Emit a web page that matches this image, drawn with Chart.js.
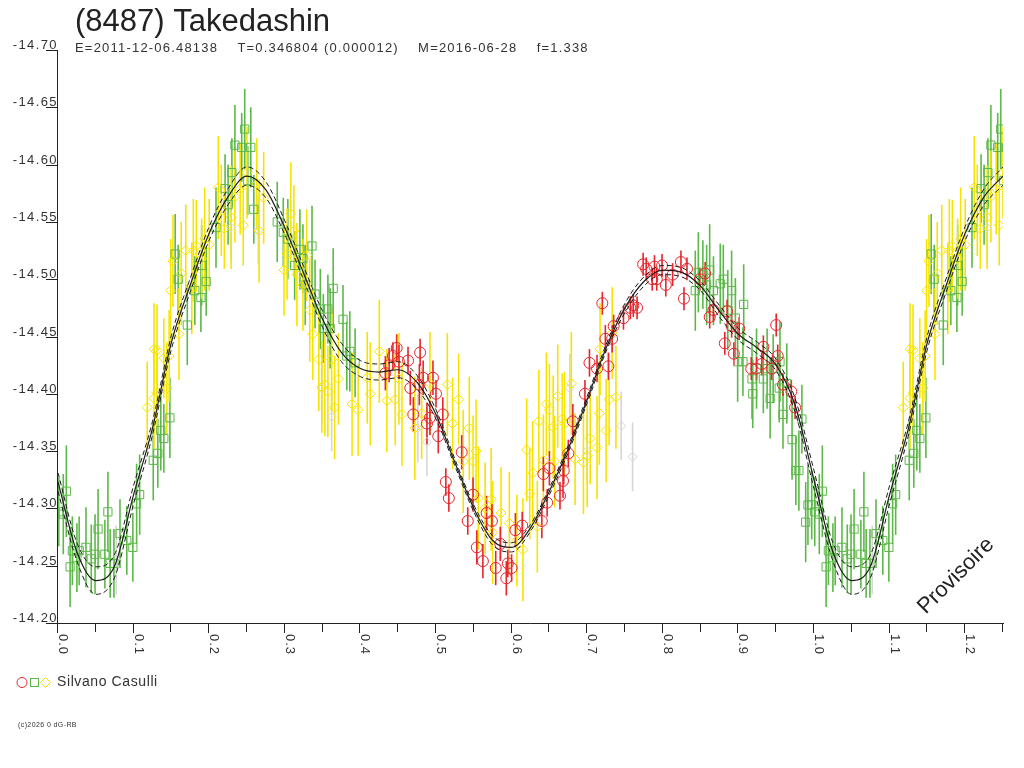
<!DOCTYPE html>
<html>
<head>
<meta charset="utf-8">
<title>(8487) Takedashin</title>
<script src="https://cdn.jsdelivr.net/npm/chart.js@4.4.1/dist/chart.umd.min.js"></script>
<style>
html, body { margin: 0; padding: 0; background: #fff; }
canvas { display: block; }
</style>
</head>
<body>
<canvas id="lc" width="1024" height="768"></canvas>
<script>
var titleText = '(8487) Takedashin';
var infoText = 'E=2011-12-06.48138    T=0.346804 (0.000012)    M=2016-06-28    f=1.338';
var observerName = 'Silvano Casulli';
var creditText = '(c)2026 0 dG-RB';
var stampText = 'Provisoire';

// axis ticks
var yTicks = [-14.70, -14.65, -14.60, -14.55, -14.50, -14.45, -14.40, -14.35, -14.30, -14.25, -14.20];
var xTicks = [0.0, 0.1, 0.2, 0.3, 0.4, 0.5, 0.6, 0.7, 0.8, 0.9, 1.0, 1.1, 1.2];
var xMinor = [0.05, 0.15, 0.25, 0.35, 0.45, 0.55, 0.65, 0.75, 0.85, 0.95, 1.05, 1.15, 1.25];

// fitted light curve + uncertainty envelope
var curvePhase = [0.000,0.025,0.050,0.075,0.100,0.125,0.150,0.175,0.200,0.225,0.250,0.275,0.300,0.325,0.350,0.375,0.400,0.425,0.450,0.475,0.500,0.525,0.550,0.575,0.600,0.625,0.650,0.675,0.700,0.725,0.750,0.775,0.800,0.825,0.850,0.875,0.900,0.925,0.950,0.975,1.000,1.025,1.050,1.075,1.100,1.125,1.150,1.175,1.200,1.225,1.250];
var curveMid = [-14.323,-14.262,-14.237,-14.250,-14.312,-14.370,-14.445,-14.495,-14.540,-14.572,-14.590,-14.578,-14.545,-14.505,-14.465,-14.436,-14.422,-14.419,-14.421,-14.410,-14.382,-14.340,-14.300,-14.272,-14.266,-14.283,-14.315,-14.352,-14.395,-14.440,-14.475,-14.498,-14.508,-14.506,-14.494,-14.472,-14.452,-14.440,-14.425,-14.390,-14.325,-14.262,-14.237,-14.250,-14.312,-14.370,-14.445,-14.495,-14.540,-14.572,-14.590];
var curveHigh = [-14.331,-14.270,-14.249,-14.260,-14.320,-14.376,-14.451,-14.501,-14.546,-14.579,-14.598,-14.585,-14.551,-14.511,-14.472,-14.444,-14.429,-14.426,-14.428,-14.416,-14.386,-14.343,-14.303,-14.276,-14.270,-14.286,-14.318,-14.355,-14.398,-14.443,-14.479,-14.502,-14.512,-14.510,-14.498,-14.477,-14.457,-14.445,-14.430,-14.396,-14.333,-14.270,-14.249,-14.260,-14.320,-14.376,-14.451,-14.501,-14.546,-14.579,-14.598];
var curveLow = [-14.315,-14.254,-14.225,-14.240,-14.304,-14.364,-14.439,-14.489,-14.534,-14.565,-14.582,-14.571,-14.539,-14.499,-14.458,-14.428,-14.415,-14.412,-14.414,-14.404,-14.378,-14.337,-14.297,-14.268,-14.262,-14.280,-14.312,-14.349,-14.392,-14.437,-14.471,-14.494,-14.504,-14.502,-14.490,-14.467,-14.447,-14.435,-14.420,-14.384,-14.317,-14.254,-14.225,-14.240,-14.304,-14.364,-14.439,-14.489,-14.534,-14.565,-14.582];

// observations (phase, magnitude, error)
var redPhase = [0.433,0.438,0.443,0.448,0.451,0.463,0.466,0.470,0.478,0.479,0.483,0.488,0.492,0.496,0.500,0.503,0.509,0.513,0.517,0.534,0.542,0.549,0.554,0.562,0.567,0.574,0.579,0.585,0.593,0.595,0.600,0.605,0.614,0.640,0.642,0.647,0.650,0.664,0.668,0.669,0.675,0.681,0.697,0.703,0.713,0.720,0.724,0.728,0.733,0.735,0.748,0.757,0.761,0.766,0.774,0.778,0.786,0.789,0.792,0.799,0.804,0.813,0.824,0.828,0.832,0.849,0.856,0.862,0.867,0.882,0.885,0.891,0.894,0.901,0.917,0.924,0.931,0.933,0.944,0.950,0.952,0.959,0.970,0.975];
var redMag = [-14.418,-14.425,-14.433,-14.440,-14.428,-14.429,-14.405,-14.382,-14.408,-14.436,-14.414,-14.374,-14.379,-14.414,-14.400,-14.363,-14.382,-14.323,-14.309,-14.349,-14.289,-14.312,-14.266,-14.254,-14.296,-14.289,-14.248,-14.269,-14.239,-14.252,-14.248,-14.281,-14.285,-14.289,-14.330,-14.305,-14.335,-14.311,-14.324,-14.333,-14.348,-14.376,-14.400,-14.427,-14.422,-14.479,-14.448,-14.424,-14.448,-14.459,-14.466,-14.475,-14.477,-14.475,-14.513,-14.509,-14.500,-14.511,-14.500,-14.512,-14.495,-14.504,-14.515,-14.483,-14.509,-14.500,-14.505,-14.467,-14.473,-14.444,-14.472,-14.459,-14.435,-14.457,-14.422,-14.422,-14.426,-14.441,-14.422,-14.460,-14.433,-14.408,-14.402,-14.388];
var redErr = [0.015,0.015,0.012,0.012,0.015,0.012,0.015,0.015,0.018,0.012,0.015,0.018,0.015,0.015,0.012,0.015,0.015,0.012,0.012,0.015,0.012,0.015,0.015,0.015,0.015,0.015,0.015,0.015,0.015,0.012,0.012,0.015,0.012,0.015,0.015,0.012,0.015,0.012,0.015,0.012,0.012,0.015,0.012,0.012,0.012,0.010,0.012,0.012,0.012,0.010,0.010,0.010,0.010,0.010,0.010,0.010,0.010,0.010,0.010,0.010,0.010,0.010,0.010,0.010,0.010,0.010,0.010,0.010,0.010,0.010,0.010,0.010,0.010,0.010,0.010,0.010,0.010,0.010,0.010,0.010,0.010,0.010,0.010,0.010];

var greenPhase = [0.001,0.007,0.011,0.016,0.019,0.025,0.028,0.037,0.044,0.049,0.053,0.062,0.066,0.069,0.074,0.082,0.091,0.099,0.104,0.108,0.126,0.132,0.136,0.140,0.148,0.155,0.159,0.171,0.181,0.189,0.190,0.196,0.209,0.221,0.225,0.230,0.234,0.243,0.247,0.251,0.255,0.259,0.290,0.298,0.304,0.313,0.320,0.324,0.327,0.336,0.340,0.347,0.351,0.357,0.360,0.364,0.377,0.382,0.386,0.393,0.843,0.847,0.853,0.858,0.862,0.867,0.876,0.880,0.886,0.891,0.896,0.899,0.906,0.907,0.918,0.919,0.924,0.933,0.938,0.942,0.946,0.954,0.955,0.959,0.964,0.971,0.976,0.980,0.984,0.989,0.992,0.997];
var greenMag = [-14.297,-14.295,-14.315,-14.249,-14.263,-14.257,-14.263,-14.266,-14.256,-14.260,-14.282,-14.260,-14.297,-14.252,-14.252,-14.278,-14.272,-14.266,-14.304,-14.312,-14.342,-14.348,-14.368,-14.361,-14.379,-14.522,-14.500,-14.460,-14.490,-14.484,-14.512,-14.498,-14.545,-14.579,-14.565,-14.593,-14.617,-14.615,-14.631,-14.586,-14.615,-14.561,-14.550,-14.541,-14.535,-14.512,-14.526,-14.518,-14.495,-14.529,-14.487,-14.474,-14.457,-14.474,-14.457,-14.492,-14.465,-14.433,-14.437,-14.427,-14.490,-14.506,-14.504,-14.495,-14.508,-14.490,-14.496,-14.500,-14.473,-14.490,-14.466,-14.428,-14.428,-14.478,-14.413,-14.400,-14.422,-14.413,-14.422,-14.396,-14.422,-14.405,-14.428,-14.382,-14.409,-14.360,-14.333,-14.333,-14.378,-14.288,-14.303,-14.303];
var greenErr = [0.030,0.035,0.040,0.035,0.030,0.030,0.030,0.035,0.030,0.035,0.035,0.030,0.035,0.030,0.030,0.030,0.030,0.030,0.035,0.035,0.035,0.030,0.035,0.030,0.035,0.035,0.030,0.035,0.030,0.030,0.035,0.030,0.035,0.030,0.035,0.030,0.035,0.030,0.035,0.030,0.035,0.030,0.035,0.030,0.035,0.030,0.035,0.030,0.035,0.035,0.030,0.035,0.030,0.030,0.035,0.035,0.030,0.030,0.035,0.030,0.035,0.035,0.030,0.035,0.040,0.030,0.035,0.030,0.035,0.035,0.035,0.035,0.030,0.035,0.035,0.030,0.035,0.030,0.035,0.035,0.030,0.030,0.035,0.030,0.035,0.035,0.030,0.035,0.030,0.035,0.035,0.030];

var yellowPhase = [0.118,0.127,0.127,0.131,0.131,0.140,0.144,0.147,0.149,0.152,0.160,0.163,0.169,0.177,0.179,0.183,0.190,0.194,0.200,0.212,0.216,0.220,0.229,0.234,0.241,0.245,0.250,0.263,0.266,0.272,0.299,0.303,0.308,0.312,0.316,0.324,0.329,0.333,0.337,0.345,0.349,0.353,0.357,0.362,0.366,0.371,0.389,0.397,0.409,0.413,0.425,0.435,0.446,0.451,0.455,0.472,0.481,0.492,0.515,0.522,0.530,0.536,0.544,0.549,0.553,0.556,0.565,0.573,0.575,0.586,0.597,0.607,0.615,0.620,0.624,0.628,0.634,0.636,0.642,0.646,0.650,0.655,0.657,0.661,0.667,0.670,0.679,0.684,0.695,0.700,0.704,0.713,0.716,0.717,0.725,0.729,0.733,0.738];
var yellowMag = [-14.388,-14.396,-14.439,-14.401,-14.438,-14.431,-14.405,-14.433,-14.490,-14.516,-14.452,-14.505,-14.525,-14.492,-14.525,-14.529,-14.518,-14.535,-14.530,-14.580,-14.560,-14.544,-14.554,-14.572,-14.579,-14.547,-14.593,-14.583,-14.542,-14.571,-14.508,-14.522,-14.557,-14.542,-14.504,-14.495,-14.521,-14.473,-14.452,-14.430,-14.406,-14.408,-14.402,-14.430,-14.388,-14.413,-14.391,-14.386,-14.414,-14.400,-14.437,-14.394,-14.395,-14.413,-14.382,-14.370,-14.383,-14.409,-14.408,-14.374,-14.395,-14.341,-14.370,-14.341,-14.350,-14.309,-14.300,-14.308,-14.279,-14.296,-14.287,-14.272,-14.264,-14.351,-14.313,-14.331,-14.284,-14.376,-14.342,-14.391,-14.386,-14.371,-14.341,-14.398,-14.378,-14.374,-14.409,-14.343,-14.340,-14.346,-14.361,-14.353,-14.383,-14.439,-14.368,-14.395,-14.453,-14.397];
var yellowErr = [0.040,0.045,0.040,0.035,0.040,0.035,0.040,0.040,0.045,0.040,0.040,0.045,0.040,0.040,0.045,0.040,0.035,0.045,0.040,0.045,0.040,0.035,0.045,0.040,0.040,0.035,0.040,0.040,0.045,0.040,0.040,0.040,0.045,0.040,0.045,0.040,0.040,0.045,0.040,0.045,0.040,0.045,0.040,0.045,0.045,0.040,0.045,0.040,0.040,0.045,0.045,0.045,0.040,0.040,0.045,0.045,0.040,0.045,0.045,0.040,0.040,0.045,0.045,0.040,0.045,0.045,0.040,0.045,0.045,0.040,0.045,0.040,0.045,0.045,0.040,0.045,0.040,0.045,0.040,0.045,0.040,0.045,0.040,0.045,0.040,0.045,0.045,0.040,0.045,0.045,0.040,0.045,0.045,0.040,0.045,0.040,0.040,0.045];

var grayPhase = [0.077,0.229,0.265,0.349,0.362,0.476,0.488,0.677,0.700,0.745,0.760];
var grayMag = [-14.255,-14.545,-14.543,-14.405,-14.380,-14.370,-14.358,-14.405,-14.350,-14.372,-14.345];
var grayErr = [0.030,0.030,0.030,0.030,0.030,0.030,0.030,0.030,0.030,0.030,0.030];

var redCol = '#e8242c';
var greenCol = '#5cb848';
var yellowCol = '#f6e400';
var grayCol = '#d6d6d6';
var inkCol = '#222222';
var fontName = '"Liberation Sans", Arial, sans-serif';

// phases below 0.25 are shown a second time after phase 1
function obs(ph, mg, er) {
  var out = [];
  for (var i = 0; i < ph.length; i++) {
    out.push({x: ph[i], y: mg[i], e: er[i]});
    if (ph[i] < 0.26) out.push({x: ph[i] + 1, y: mg[i], e: er[i]});
  }
  return out;
}
function line(ph, mg) {
  return ph.map(function(p, i) { return {x: p, y: mg[i]}; });
}

var errorBars = {
  id: 'errorBars',
  beforeDatasetsDraw: function(chart) {
    var ctx = chart.ctx, a = chart.chartArea, ys = chart.scales.y;
    ctx.save();
    ctx.beginPath();
    ctx.rect(a.left, a.top, a.right - a.left, a.bottom - a.top);
    ctx.clip();
    for (var i = chart.data.datasets.length - 1; i >= 0; i--) {
      var ds = chart.data.datasets[i];
      if (!ds.errColor) continue;
      var meta = chart.getDatasetMeta(i);
      ctx.strokeStyle = ds.errColor;
      ctx.lineWidth = 1.6;
      meta.data.forEach(function(pt, j) {
        var d = ds.data[j];
        ctx.beginPath();
        ctx.moveTo(pt.x, ys.getPixelForValue(d.y - d.e));
        ctx.lineTo(pt.x, ys.getPixelForValue(d.y + d.e));
        ctx.stroke();
      });
    }
    ctx.restore();
  }
};

var frame = {
  id: 'frame',
  afterDraw: function(chart) {
    var ctx = chart.ctx, a = chart.chartArea;
    var xs = chart.scales.x, ys = chart.scales.y;
    ctx.save();
    ctx.strokeStyle = inkCol;
    ctx.fillStyle = '#333';
    ctx.lineWidth = 1;

    // axes
    ctx.beginPath();
    ctx.moveTo(a.left - 0.5, a.top);
    ctx.lineTo(a.left - 0.5, a.bottom + 0.5);
    ctx.lineTo(a.right + 1, a.bottom + 0.5);
    ctx.stroke();

    // y ticks, label sits on the tick
    ctx.font = '13px ' + fontName;
    ctx.letterSpacing = '1.4px';
    ctx.textAlign = 'right';
    ctx.textBaseline = 'alphabetic';
    yTicks.forEach(function(v) {
      var y = Math.round(ys.getPixelForValue(v)) + 0.5;
      ctx.beginPath();
      ctx.moveTo(a.left - 12, y);
      ctx.lineTo(a.left, y);
      ctx.stroke();
      ctx.fillText(v.toFixed(2), a.left, y - 2);
    });

    // x ticks, labels turned a quarter clockwise
    ctx.letterSpacing = '1px';
    xMinor.forEach(function(v) {
      var x = Math.round(xs.getPixelForValue(v)) - 0.5;
      ctx.beginPath();
      ctx.moveTo(x, a.bottom);
      ctx.lineTo(x, a.bottom + 9);
      ctx.stroke();
    });
    ctx.textAlign = 'left';
    xTicks.forEach(function(v) {
      var x = Math.round(xs.getPixelForValue(v)) - 0.5;
      ctx.beginPath();
      ctx.moveTo(x, a.bottom);
      ctx.lineTo(x, a.bottom + 10);
      ctx.stroke();
      ctx.save();
      ctx.translate(x + 1, a.bottom + 11);
      ctx.rotate(Math.PI / 2);
      ctx.fillText(v.toFixed(1), 0, 0);
      ctx.restore();
    });

    // title block
    ctx.letterSpacing = '0px';
    ctx.fillStyle = inkCol;
    ctx.font = '31px ' + fontName;
    ctx.fillText(titleText, 75, 31);
    ctx.fillStyle = '#333';
    ctx.font = '13px ' + fontName;
    ctx.letterSpacing = '1.2px';
    ctx.fillText(infoText, 75, 52);

    // legend
    ctx.lineWidth = 1;
    ctx.strokeStyle = redCol;
    ctx.beginPath(); ctx.arc(22, 682.5, 5, 0, Math.PI * 2); ctx.stroke();
    ctx.strokeStyle = greenCol;
    ctx.strokeRect(30.5, 678.5, 8, 8);
    ctx.strokeStyle = yellowCol;
    ctx.beginPath();
    ctx.moveTo(45.5, 677.5); ctx.lineTo(50.5, 682.5); ctx.lineTo(45.5, 687.5); ctx.lineTo(40.5, 682.5);
    ctx.closePath(); ctx.stroke();
    ctx.font = '14px ' + fontName;
    ctx.letterSpacing = '0.6px';
    ctx.textBaseline = 'middle';
    ctx.fillText(observerName, 57, 682);

    ctx.font = '7px ' + fontName;
    ctx.letterSpacing = '0.4px';
    ctx.fillText(creditText, 18, 725);

    // provisional stamp
    ctx.save();
    ctx.translate(956, 576);
    ctx.rotate(-Math.PI / 4);
    ctx.font = '22px ' + fontName;
    ctx.letterSpacing = '0px';
    ctx.textAlign = 'center';
    ctx.fillStyle = inkCol;
    ctx.fillText(stampText, 0, 0);
    ctx.restore();

    ctx.restore();
  }
};

function pts(label, data, style, col, r) {
  return {
    label: label, data: data, pointStyle: style, pointRadius: r,
    borderColor: col, backgroundColor: 'rgba(0,0,0,0)', pointBorderWidth: 1,
    showLine: false, errColor: col
  };
}
function curve(data, dash, w) {
  return {
    data: data, showLine: true, pointRadius: 0, borderColor: '#1c1c1c',
    borderWidth: w, borderDash: dash, cubicInterpolationMode: 'monotone', fill: false
  };
}

new Chart(document.getElementById('lc'), {
  type: 'scatter',
  data: {
    datasets: [
      curve(line(curvePhase, curveMid), [], 1.2),
      curve(line(curvePhase, curveHigh), [5, 3], 1),
      curve(line(curvePhase, curveLow), [5, 3], 1),
      pts('red', obs(redPhase, redMag, redErr), 'circle', redCol, 5.5),
      pts('yellow', obs(yellowPhase, yellowMag, yellowErr), 'rectRot', yellowCol, 5),
      pts('green', obs(greenPhase, greenMag, greenErr), 'rect', greenCol, 5.8),
      pts('gray', obs(grayPhase, grayMag, grayErr), 'rectRot', grayCol, 4.5)
    ]
  },
  options: {
    responsive: false,
    animation: false,
    events: [],
    layout: { padding: { left: 58, right: 21, top: 50, bottom: 145 } },
    plugins: { legend: { display: false }, tooltip: { enabled: false }, title: { display: false } },
    scales: {
      x: { type: 'linear', min: 0, max: 1.25, display: false },
      y: { type: 'linear', min: -14.70, max: -14.20, reverse: true, display: false }
    }
  },
  plugins: [errorBars, frame]
});
</script>
</body>
</html>
